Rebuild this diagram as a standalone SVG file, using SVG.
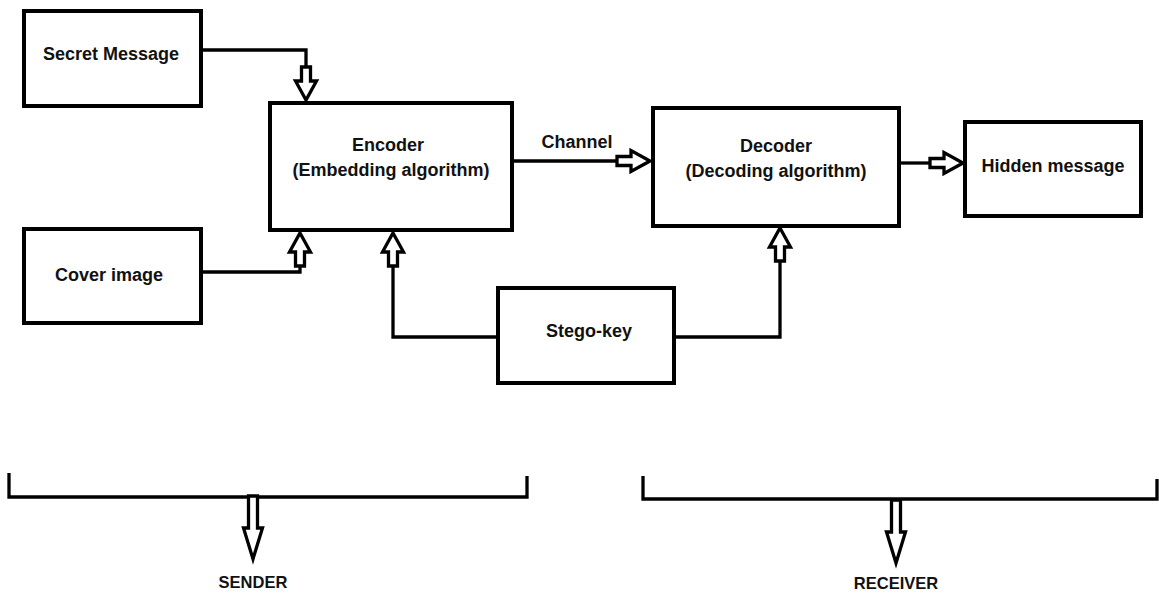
<svg xmlns="http://www.w3.org/2000/svg" xmlns:xlink="http://www.w3.org/1999/xlink" width="1159" height="593" viewBox="0 0 1159 593">
  <style>
    .box { fill: #ffffff; stroke: #000000; stroke-width: 4; }
    .wire { fill: none; stroke: #000000; stroke-width: 3.3; stroke-linejoin: miter; }
    .blk { fill: #ffffff; stroke: #000000; stroke-width: 3.3; stroke-linejoin: miter; }
    .lbl { font-family: "Liberation Sans", Arial, sans-serif; font-weight: bold; font-size: 18px; fill: #111111; text-anchor: middle; }
    .tag { font-family: "Liberation Sans", Arial, sans-serif; font-weight: bold; font-size: 16.5px; fill: #111111; text-anchor: middle; }
  </style>
  <defs>
    <!-- hollow block arrow, tip at origin, pointing along +y -->
    <path id="blockArrow" class="blk" d="M0,0 L-10.5,-19 L-4.5,-19 L-4.5,-33 L4.5,-33 L4.5,-19 L10.5,-19 Z"/>
    <!-- long narrow arrow used under the brackets -->
    <path id="tallArrow" class="blk" d="M0,0 L-9.5,-31 L-4.5,-31 L-4.5,-63 L4.5,-63 L4.5,-31 L9.5,-31 Z"/>
  </defs>

  <rect width="1159" height="593" fill="#ffffff"/>

  <g id="connectors">
    <path class="wire" d="M201,50 H306 V67"/>
    <path class="wire" d="M201,272 H300 V266"/>
    <path class="wire" d="M498,337 H393 V266"/>
    <path class="wire" d="M674,337 H780 V261"/>
    <path class="wire" d="M512,161 H617"/>
    <path class="wire" d="M899,163 H930"/>
    <use xlink:href="#blockArrow" transform="translate(306,100)"/>
    <use xlink:href="#blockArrow" transform="translate(300,233) rotate(180)"/>
    <use xlink:href="#blockArrow" transform="translate(393,233) rotate(180)"/>
    <use xlink:href="#blockArrow" transform="translate(780,228) rotate(180)"/>
    <use xlink:href="#blockArrow" transform="translate(650,161) rotate(-90)"/>
    <use xlink:href="#blockArrow" transform="translate(963,163) rotate(-90)"/>
  </g>

  <g id="secret-message">
    <rect class="box" x="24" y="11" width="177" height="95"/>
    <text class="lbl" x="111" y="60">Secret Message</text>
  </g>

  <g id="cover-image">
    <rect class="box" x="24" y="229" width="177" height="94"/>
    <text class="lbl" x="109" y="281">Cover image</text>
  </g>

  <g id="encoder">
    <rect class="box" x="270" y="103" width="242" height="127"/>
    <text class="lbl" x="388" y="151">Encoder</text>
    <text class="lbl" x="391" y="176">(Embedding algorithm)</text>
  </g>

  <g id="channel-label">
    <text class="lbl" x="577" y="148">Channel</text>
  </g>

  <g id="decoder">
    <rect class="box" x="653" y="108" width="246" height="118"/>
    <text class="lbl" x="776" y="152">Decoder</text>
    <text class="lbl" x="776" y="177">(Decoding algorithm)</text>
  </g>

  <g id="hidden-message">
    <rect class="box" x="965" y="122" width="176" height="94"/>
    <text class="lbl" x="1053" y="172">Hidden message</text>
  </g>

  <g id="stego-key">
    <rect class="box" x="498" y="288" width="176" height="95"/>
    <text class="lbl" x="589" y="337">Stego-key</text>
  </g>

  <g id="sender">
    <path class="wire" d="M9,473 V497 H527 V476"/>
    <use xlink:href="#tallArrow" transform="translate(253,559)"/>
    <text class="tag" x="253" y="588">SENDER</text>
  </g>

  <g id="receiver">
    <path class="wire" d="M643,476 V499 H1157 V479"/>
    <use xlink:href="#tallArrow" transform="translate(896,563)"/>
    <text class="tag" x="896" y="589">RECEIVER</text>
  </g>
</svg>
